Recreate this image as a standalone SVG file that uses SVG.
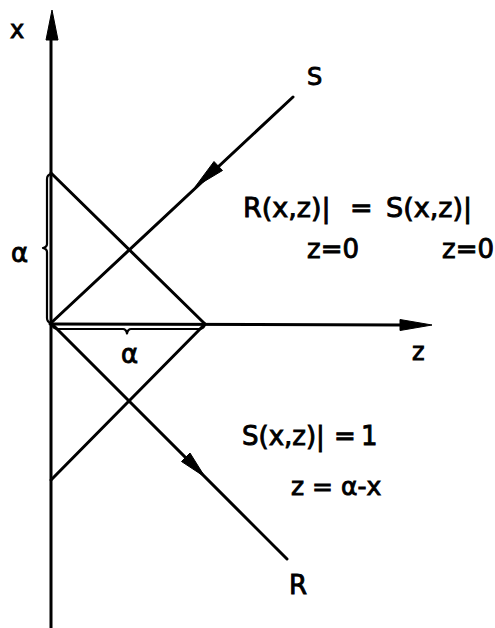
<svg xmlns="http://www.w3.org/2000/svg" width="495" height="628" viewBox="0 0 495 628">
<style>
.ln{stroke:#000;stroke-width:3;fill:none;stroke-linecap:round;stroke-linejoin:round}
.br{stroke:#000;stroke-width:2.2;fill:none;stroke-linecap:round;stroke-linejoin:round}
.ah{fill:#000;stroke:#000;stroke-width:1;stroke-linejoin:round}
.t{font-family:"DejaVu Sans",sans-serif;fill:#000;stroke:#000;stroke-width:0.9}
</style>
<rect width="495" height="628" fill="#fff"/>
<g id="axes">
<line class="ln" x1="51" y1="628" x2="51" y2="36"/>
<polygon class="ah" points="52,10 58,40 46,40"/>
<text class="t" x="10" y="38" font-size="24" stroke-width="1.4">x</text>
<line class="ln" x1="50" y1="324" x2="404" y2="325"/>
<polygon class="ah" points="432,325 400,319.5 400,330.5"/>
<text class="t" x="412" y="360" font-size="24">z</text>
</g>
<g id="connectors">
<line class="ln" x1="51" y1="173" x2="205" y2="324"/>
<line class="ln" x1="205" y1="324" x2="51" y2="480"/>
<line class="ln" x1="51" y1="323" x2="293" y2="97"/>
<line class="ln" x1="51" y1="323" x2="287" y2="559"/>
<polygon class="ah" points="195,187 214,161.5 222.5,170.5"/>
<polygon class="ah" points="205,477 181.5,461.5 190,453"/>
</g>
<g id="braces">
<path class="br" d="M51,174 Q47,175 47,179 L47,244 Q47,247 43,248 Q47,249 47,252 L47,318 Q47,322 51,323"/>
<path class="br" d="M52,325 Q54,329 58,329 L123,329 Q126,329 127,333.5 Q128,329 131,329 L199,329 Q203,329 205,325"/>
<text class="t" x="11" y="262" font-size="26">α</text>
<text class="t" x="121" y="363" font-size="26">α</text>
</g>
<g id="labels">
<text class="t" x="307" y="85" font-size="24">S</text>
<text class="t" x="289" y="594" font-size="26">R</text>
</g>
<g id="eq1">
<text class="t" font-size="27" y="217"><tspan x="243">R(x,z)|</tspan><tspan x="350">=</tspan><tspan x="386">S(x,z)|</tspan></text>
<text class="t" font-size="26" x="307" y="258">z=0</text>
<text class="t" font-size="26" x="442" y="258">z=0</text>
</g>
<g id="eq2">
<text class="t" font-size="26" y="445"><tspan x="242">S(x,z)|</tspan><tspan x="334">=</tspan><tspan x="361">1</tspan></text>
<text class="t" font-size="25" x="291" y="495">z = α-x</text>
</g>
</svg>
